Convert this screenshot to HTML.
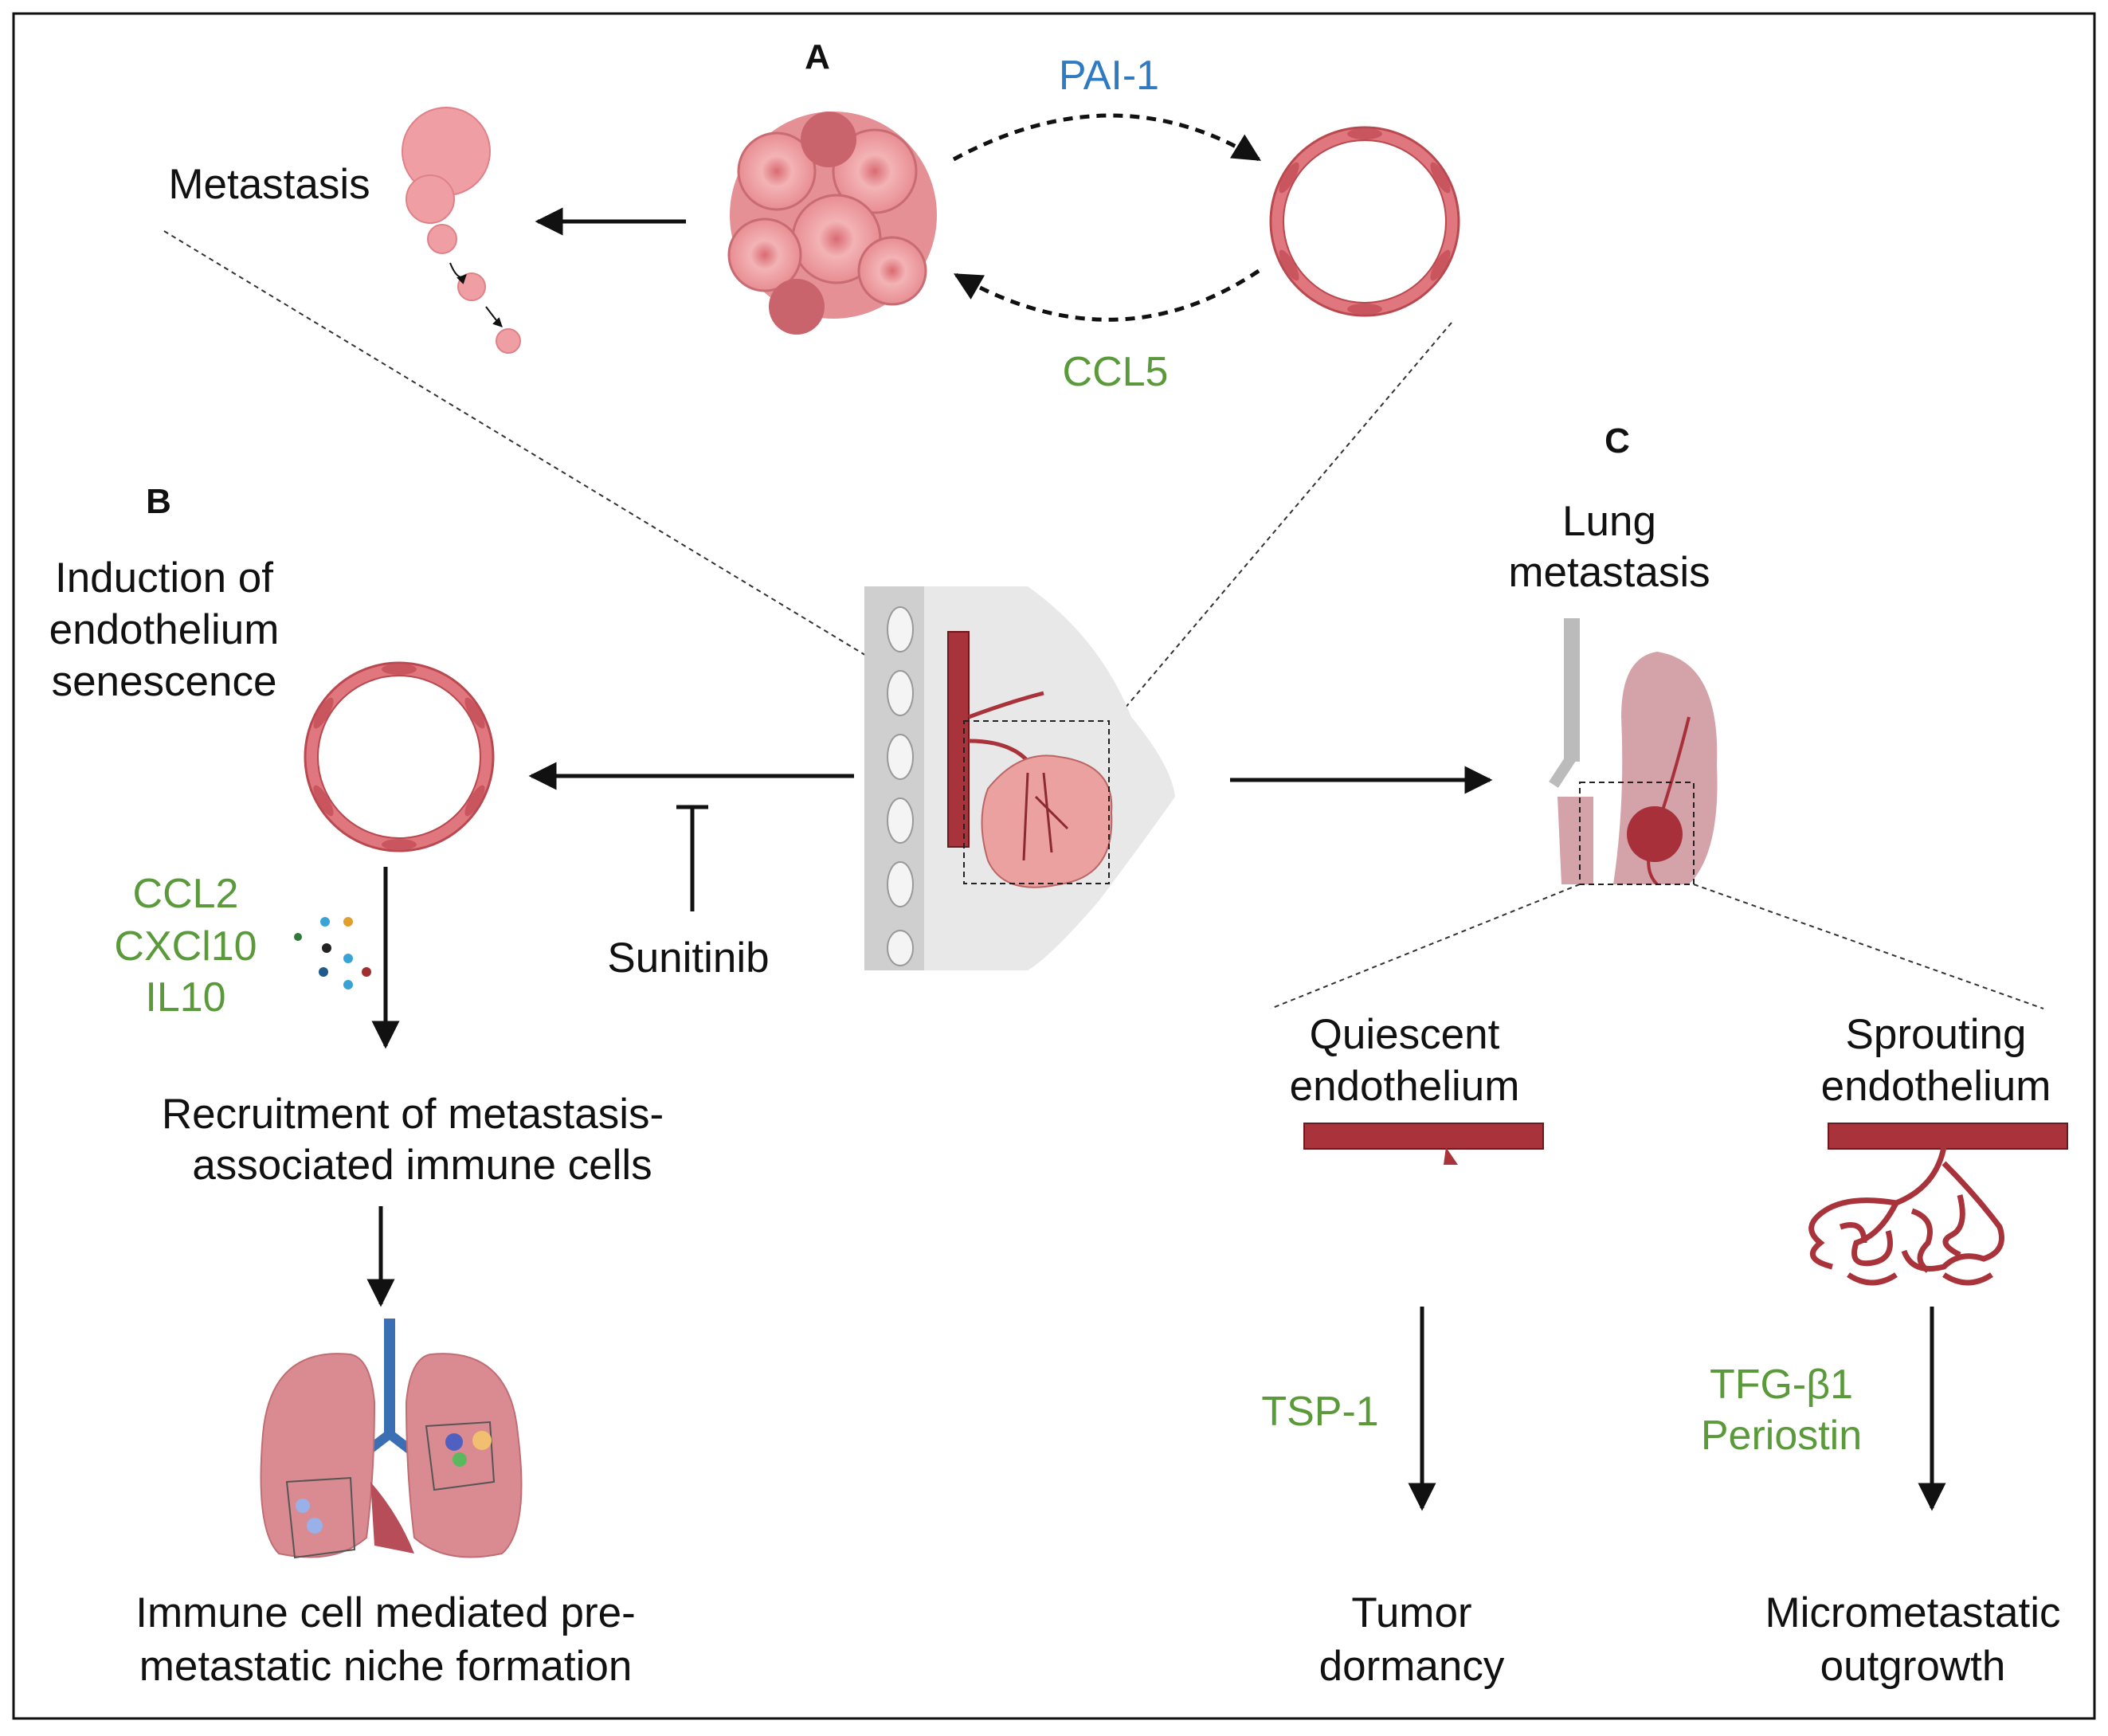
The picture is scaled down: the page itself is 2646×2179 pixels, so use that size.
<!DOCTYPE html>
<html><head><meta charset="utf-8"><style>
html,body{margin:0;padding:0;background:#fff}
svg{display:block}
text{font-family:"Liberation Sans",Arial,sans-serif}
</style></head><body>
<svg width="2646" height="2179" viewBox="0 0 2646 2179" xmlns="http://www.w3.org/2000/svg">
<defs>
<marker id="a" viewBox="0 0 10 10" refX="9" refY="5" markerWidth="7.5" markerHeight="7" orient="auto"><path d="M0,0 L10,5 L0,10 z" fill="#111"/></marker>
<marker id="as" viewBox="0 0 10 10" refX="9" refY="5" markerWidth="6" markerHeight="6" orient="auto"><path d="M0,0 L10,5 L0,10 z" fill="#111"/></marker>
<radialGradient id="cell" cx="50%" cy="50%" r="50%"><stop offset="0" stop-color="#d96b72"/><stop offset="0.4" stop-color="#f3b3b5"/><stop offset="1" stop-color="#e88d92"/></radialGradient>
<g id="ring">
<circle r="110" fill="#fff" stroke="#e0777e" stroke-width="16"/>
<circle r="118" fill="none" stroke="#b9484f" stroke-width="3"/>
<circle r="102" fill="none" stroke="#b9484f" stroke-width="2"/>
<g fill="#c9565e">
<ellipse cx="0" cy="-110" rx="22" ry="7"/><ellipse cx="0" cy="110" rx="22" ry="7"/>
<ellipse cx="95" cy="-55" rx="22" ry="7" transform="rotate(60 95 -55)"/><ellipse cx="-95" cy="55" rx="22" ry="7" transform="rotate(60 -95 55)"/>
<ellipse cx="95" cy="55" rx="22" ry="7" transform="rotate(-60 95 55)"/><ellipse cx="-95" cy="-55" rx="22" ry="7" transform="rotate(-60 -95 -55)"/>
</g>
</g>
</defs>
<rect x="17" y="17" width="2612" height="2140" fill="#fff" stroke="#111" stroke-width="3"/>

<!-- Panel A -->
<text x="1026" y="86" font-size="44" font-weight="bold" text-anchor="middle" fill="#111">A</text>
<text x="1392" y="112" font-size="52" text-anchor="middle" fill="#2e7bc4">PAI-1</text>
<text x="1400" y="484" font-size="52" text-anchor="middle" fill="#5a9a3a">CCL5</text>
<text x="338" y="249" font-size="53" text-anchor="middle" fill="#111">Metastasis</text>
<line x1="861" y1="278" x2="675" y2="278" stroke="#111" stroke-width="5" marker-end="url(#a)"/>
<g>
<circle cx="1046" cy="270" r="130" fill="#e59095"/>
<circle cx="975" cy="215" r="48" fill="url(#cell)" stroke="#c86b72" stroke-width="3"/>
<circle cx="1098" cy="215" r="52" fill="url(#cell)" stroke="#c86b72" stroke-width="3"/>
<circle cx="1050" cy="300" r="55" fill="url(#cell)" stroke="#c86b72" stroke-width="3"/>
<circle cx="960" cy="320" r="45" fill="url(#cell)" stroke="#c86b72" stroke-width="3"/>
<circle cx="1120" cy="340" r="42" fill="url(#cell)" stroke="#c86b72" stroke-width="3"/>
<circle cx="1040" cy="175" r="35" fill="#c9646c"/>
<circle cx="1000" cy="385" r="35" fill="#c9646c"/>
</g>
<g fill="#ef9fa3" stroke="#e08088" stroke-width="2">
<circle cx="560" cy="190" r="55"/><circle cx="540" cy="250" r="30"/><circle cx="555" cy="300" r="18"/>
<circle cx="592" cy="360" r="17"/><circle cx="638" cy="428" r="15"/>
</g>
<path d="M565 330 Q575 355 585 345" fill="none" stroke="#111" stroke-width="2" marker-end="url(#as)"/>
<path d="M610 385 Q625 405 630 410" fill="none" stroke="#111" stroke-width="2" marker-end="url(#as)"/>
<use href="#ring" x="1713" y="278"/>
<path d="M1197 200 Q1400 90 1580 200" fill="none" stroke="#111" stroke-width="5" stroke-dasharray="12,9" marker-end="url(#a)"/>
<path d="M1580 340 Q1400 460 1200 345" fill="none" stroke="#111" stroke-width="5" stroke-dasharray="12,9" marker-end="url(#a)"/>
<line x1="206" y1="290" x2="1223" y2="905" stroke="#333" stroke-width="2" stroke-dasharray="6,5"/>
<line x1="1822" y1="405" x2="1400" y2="903" stroke="#333" stroke-width="2" stroke-dasharray="6,5"/>

<!-- Panel B -->
<text x="199" y="644" font-size="44" font-weight="bold" text-anchor="middle" fill="#111">B</text>
<text x="206" y="743" font-size="53" text-anchor="middle" fill="#111">Induction of</text>
<text x="206" y="808" font-size="53" text-anchor="middle" fill="#111">endothelium</text>
<text x="206" y="873" font-size="53" text-anchor="middle" fill="#111">senescence</text>
<use href="#ring" x="501" y="950"/>
<line x1="1072" y1="974" x2="667" y2="974" stroke="#111" stroke-width="5" marker-end="url(#a)"/>
<line x1="869" y1="1013" x2="869" y2="1144" stroke="#111" stroke-width="5"/>
<line x1="849" y1="1013" x2="889" y2="1013" stroke="#111" stroke-width="5"/>
<text x="864" y="1220" font-size="53" text-anchor="middle" fill="#111">Sunitinib</text>
<text x="233" y="1139" font-size="52" text-anchor="middle" fill="#5a9a3a">CCL2</text>
<text x="233" y="1205" font-size="52" text-anchor="middle" fill="#5a9a3a">CXCl10</text>
<text x="233" y="1269" font-size="52" text-anchor="middle" fill="#5a9a3a">IL10</text>
<g>
<circle cx="374" cy="1176" r="5" fill="#2f7a3a"/><circle cx="408" cy="1157" r="6" fill="#3aa3d6"/><circle cx="437" cy="1157" r="6" fill="#e0a030"/>
<circle cx="410" cy="1190" r="6" fill="#222"/><circle cx="437" cy="1203" r="6" fill="#3aa3d6"/><circle cx="406" cy="1220" r="6" fill="#1f5a8a"/>
<circle cx="460" cy="1220" r="6" fill="#a03030"/><circle cx="437" cy="1236" r="6" fill="#3aa3d6"/>
</g>
<line x1="484" y1="1088" x2="484" y2="1313" stroke="#111" stroke-width="5" marker-end="url(#a)"/>
<text x="518" y="1416" font-size="53" text-anchor="middle" fill="#111">Recruitment of metastasis-</text>
<text x="530" y="1480" font-size="53" text-anchor="middle" fill="#111">associated immune cells</text>
<line x1="478" y1="1514" x2="478" y2="1637" stroke="#111" stroke-width="5" marker-end="url(#a)"/>
<g>
<rect x="482" y="1655" width="14" height="150" fill="#3b6fb4"/>
<path d="M489 1800 L450 1830 M489 1800 L528 1830" stroke="#3b6fb4" stroke-width="12"/>
<path d="M440 1700 Q340 1690 330 1800 Q320 1920 350 1950 Q420 1965 460 1930 Q470 1850 470 1760 Q465 1705 440 1700z" fill="#d98b91" stroke="#c06d74" stroke-width="2"/>
<path d="M540 1700 Q640 1690 650 1800 Q665 1920 630 1950 Q560 1965 520 1930 Q510 1850 510 1760 Q515 1705 540 1700z" fill="#d98b91" stroke="#c06d74" stroke-width="2"/>
<path d="M465 1860 Q500 1900 520 1950 L470 1940z" fill="#b64d59"/>
<path d="M360 1860 L440 1855 L445 1945 L370 1955z" fill="none" stroke="#555" stroke-width="2"/>
<path d="M535 1790 L615 1785 L620 1860 L545 1870z" fill="none" stroke="#555" stroke-width="2"/>
<circle cx="380" cy="1890" r="9" fill="#9ab0e8"/><circle cx="395" cy="1915" r="10" fill="#9ab0e8"/>
<circle cx="570" cy="1810" r="11" fill="#5060c0"/><circle cx="605" cy="1808" r="12" fill="#f0c070"/><circle cx="577" cy="1832" r="9" fill="#5cb85c"/>
</g>
<text x="484" y="2042" font-size="53" text-anchor="middle" fill="#111">Immune cell mediated pre-</text>
<text x="484" y="2109" font-size="53" text-anchor="middle" fill="#111">metastatic niche formation</text>

<!-- Breast center -->
<g>
<path d="M1085 736 L1290 736 Q1380 800 1420 900 Q1470 960 1475 1000 Q1440 1050 1380 1130 Q1320 1200 1290 1218 L1085 1218z" fill="#e8e8e8"/>
<path d="M1085 736 L1160 736 L1160 1218 L1085 1218z" fill="#cfcfcf"/>
<g fill="#f4f4f4" stroke="#999" stroke-width="2">
<ellipse cx="1130" cy="790" rx="16" ry="28"/><ellipse cx="1130" cy="870" rx="16" ry="28"/><ellipse cx="1130" cy="950" rx="16" ry="28"/>
<ellipse cx="1130" cy="1030" rx="16" ry="28"/><ellipse cx="1130" cy="1110" rx="16" ry="28"/><ellipse cx="1130" cy="1190" rx="16" ry="22"/>
</g>
<rect x="1190" y="793" width="26" height="270" fill="#a8333a" stroke="#6a1a1f" stroke-width="2"/>
<path d="M1216 900 Q1270 880 1310 870 M1216 930 Q1280 930 1300 970" stroke="#a8333a" stroke-width="5" fill="none"/>
<path d="M1240 990 Q1280 940 1330 950 Q1400 960 1395 1020 Q1400 1100 1330 1110 Q1260 1125 1240 1080 Q1225 1030 1240 990z" fill="#eba19f" stroke="#b66" stroke-width="2"/>
<path d="M1290 970 L1285 1080 M1310 970 L1320 1070 M1300 1000 L1340 1040" stroke="#8b2a30" stroke-width="3" fill="none"/>
<rect x="1210" y="905" width="182" height="204" fill="none" stroke="#222" stroke-width="2" stroke-dasharray="7,5"/>
</g>
<line x1="1544" y1="979" x2="1870" y2="979" stroke="#111" stroke-width="5" marker-end="url(#a)"/>

<!-- Panel C -->
<text x="2030" y="568" font-size="44" font-weight="bold" text-anchor="middle" fill="#111">C</text>
<text x="2020" y="672" font-size="53" text-anchor="middle" fill="#111">Lung</text>
<text x="2020" y="736" font-size="53" text-anchor="middle" fill="#111">metastasis</text>
<g>
<rect x="1963" y="776" width="20" height="180" fill="#bbb"/>
<path d="M1973 950 L1950 985" stroke="#bbb" stroke-width="14"/>
<path d="M2080 818 Q2160 830 2155 960 Q2160 1070 2120 1110 L2025 1110 Q2040 1010 2035 900 Q2035 825 2080 818z" fill="#d4a3a9"/>
<path d="M1955 1000 L2000 1000 L2000 1110 L1960 1110z" fill="#d4a3a9"/>
<circle cx="2077" cy="1047" r="35" fill="#a8303a"/>
<path d="M2120 900 Q2100 980 2077 1047 Q2060 1090 2080 1110" stroke="#a8303a" stroke-width="4" fill="none"/>
<rect x="1983" y="982" width="143" height="128" fill="none" stroke="#222" stroke-width="2" stroke-dasharray="7,5"/>
</g>
<line x1="1983" y1="1110" x2="1595" y2="1266" stroke="#333" stroke-width="2" stroke-dasharray="6,5"/>
<line x1="2126" y1="1110" x2="2565" y2="1266" stroke="#333" stroke-width="2" stroke-dasharray="6,5"/>
<text x="1763" y="1316" font-size="53" text-anchor="middle" fill="#111">Quiescent</text>
<text x="1763" y="1381" font-size="53" text-anchor="middle" fill="#111">endothelium</text>
<text x="2430" y="1316" font-size="53" text-anchor="middle" fill="#111">Sprouting</text>
<text x="2430" y="1381" font-size="53" text-anchor="middle" fill="#111">endothelium</text>
<rect x="1637" y="1410" width="300" height="32" fill="#a8333a" stroke="#6a1a1f" stroke-width="2"/>
<path d="M1815 1440 L1830 1462 L1812 1462z" fill="#a8333a"/>
<rect x="2295" y="1410" width="300" height="32" fill="#a8333a" stroke="#6a1a1f" stroke-width="2"/>
<g stroke="#a8333a" stroke-width="7" fill="none">
<path d="M2440 1440 Q2430 1490 2380 1510 Q2320 1500 2290 1520 Q2260 1540 2285 1560 Q2260 1580 2300 1590"/>
<path d="M2380 1510 Q2360 1550 2330 1560 Q2320 1590 2350 1585 Q2380 1580 2370 1545"/>
<path d="M2440 1460 Q2480 1500 2510 1540 Q2520 1570 2490 1580 Q2460 1570 2440 1590 Q2400 1600 2390 1570"/>
<path d="M2400 1520 Q2430 1530 2420 1560 Q2400 1580 2420 1595 M2310 1540 Q2340 1530 2340 1560"/>
<path d="M2460 1500 Q2470 1540 2450 1550 Q2430 1560 2460 1575"/>
<path d="M2320 1600 Q2350 1620 2380 1600 M2440 1600 Q2470 1620 2500 1600"/>
</g>
<line x1="1785" y1="1640" x2="1785" y2="1893" stroke="#111" stroke-width="5" marker-end="url(#a)"/>
<text x="1657" y="1789" font-size="52" text-anchor="middle" fill="#5a9a3a">TSP-1</text>
<line x1="2425" y1="1640" x2="2425" y2="1893" stroke="#111" stroke-width="5" marker-end="url(#a)"/>
<text x="2236" y="1755" font-size="52" text-anchor="middle" fill="#5a9a3a">TFG-β1</text>
<text x="2236" y="1819" font-size="52" text-anchor="middle" fill="#5a9a3a">Periostin</text>
<text x="1772" y="2042" font-size="53" text-anchor="middle" fill="#111">Tumor</text>
<text x="1772" y="2109" font-size="53" text-anchor="middle" fill="#111">dormancy</text>
<text x="2401" y="2042" font-size="53" text-anchor="middle" fill="#111">Micrometastatic</text>
<text x="2401" y="2109" font-size="53" text-anchor="middle" fill="#111">outgrowth</text>
</svg>
</body></html>
